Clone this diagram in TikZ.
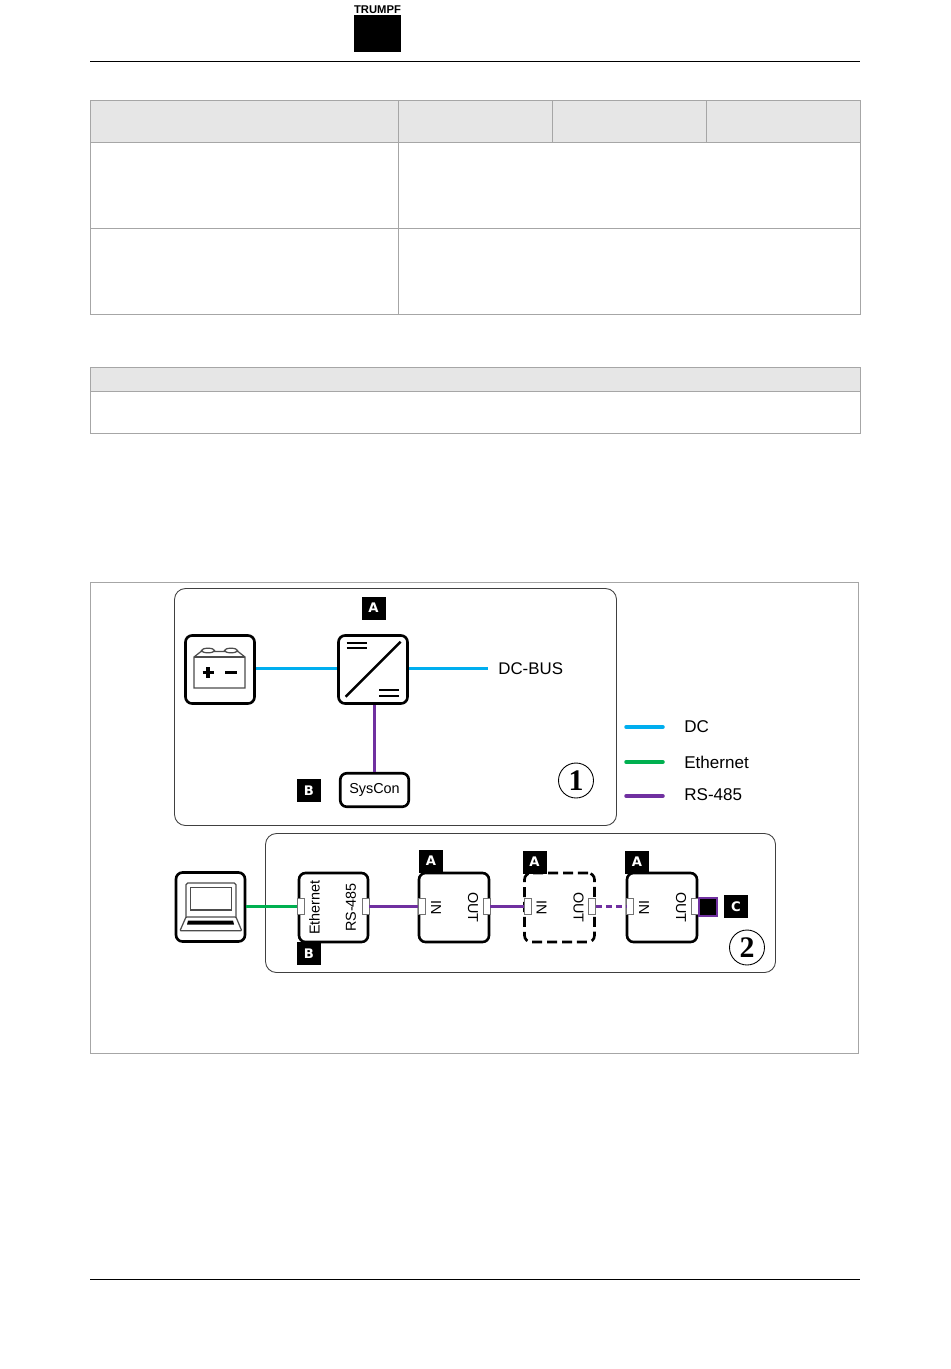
\documentclass[tikz,border=0pt]{standalone}
\usepackage{fontspec}
\setmainfont{Liberation Sans}
\newfontfamily\tagfont{DejaVu Sans}
\newfontfamily\numfont{Liberation Serif}
\usepackage{xcolor}
\usetikzlibrary{positioning}
\definecolor{dcblue}{HTML}{00AEEF}
\definecolor{ethgreen}{HTML}{00B050}
\definecolor{rspurple}{HTML}{7030A0}
\definecolor{headgray}{HTML}{E6E6E6}
\definecolor{rulegray}{HTML}{A6A6A6}

\begin{document}
\begin{tikzpicture}[
  x=0.02cm, y=-0.02cm,
  dev/.style={draw, line width=1.5pt, rounded corners=0.13cm, fill=white, minimum width=1.38cm, minimum height=1.36cm, inner sep=0pt},
  group/.style={draw=black!75, line width=0.5pt, rounded corners=0.22cm},
  tagbox/.style={fill=black, text=white, font=\tagfont\bfseries\fontsize{7.5}{8}\selectfont, minimum width=0.48cm, minimum height=0.46cm, inner sep=0pt},
  port/.style={draw=black!55, line width=0.5pt, fill=white, minimum width=0.14cm, minimum height=0.32cm, inner sep=0pt},
  lb/.style={font=\fontsize{8.2}{9}\selectfont, inner sep=0pt},
  leg/.style={font=\fontsize{9.7}{11}\selectfont, anchor=west, inner sep=0pt},
  num/.style={circle, draw, line width=0.5pt, minimum size=0.7cm, inner sep=0pt, font=\numfont\bfseries\fontsize{17}{17}\selectfont},
  dcline/.style={dcblue, line width=2pt},
  ethline/.style={ethgreen, line width=2pt},
  rsline/.style={rspurple, line width=2pt},
  icon/.style={draw=black!70, line width=0.7pt}
]
\useasboundingbox (0,0) rectangle (950,1369);
% page head and foot
\node[font=\bfseries\fontsize{6.4}{7}\selectfont, inner sep=0pt] (logotext) at (377.5,10) {TRUMPF};
\fill (354,15) rectangle (401,52);
\draw[line width=0.5pt] (90,61.5) -- (860,61.5);
\draw[line width=0.5pt] (90,1279.5) -- (860,1279.5);
% tables
\fill[headgray] (90,100) rectangle (860,142);
\fill[headgray] (90,367) rectangle (860,391);
\begin{scope}[rulegray, line width=0.5pt]
  \draw (90.5,100.5) rectangle (860.5,314.5);
  \draw (90.5,142.5) -- (860.5,142.5);
  \draw (90.5,228.5) -- (860.5,228.5);
  \draw (398.5,100.5) -- (398.5,314.5);
  \draw (552.5,100.5) -- (552.5,142.5);
  \draw (706.5,100.5) -- (706.5,142.5);
  \draw (90.5,367.5) rectangle (860.5,433.5);
  \draw (90.5,391.5) -- (860.5,391.5);
  \draw (90.5,582.5) rectangle (858.5,1053.5);
\end{scope}
% groups
\draw[group] (174.5,588.5) rectangle (616.5,825.5);
\draw[group] (265.5,833.5) rectangle (775.5,972.5);
% upper group
\node[dev] (batt) at (220,669.5) {};
\node[dev] (conv) at (373,669.5) {};
\node[dev, minimum width=1.37cm, minimum height=0.67cm, font=\fontsize{8.2}{9}\selectfont] (syscon) at (374.5,790) {SysCon};
\node[tagbox] (taga) at (373.5,608) {A};
\node[tagbox] (tagb) at (309,790.5) {B};
\node[font=\fontsize{9.6}{11}\selectfont, anchor=west, inner xsep=0.2cm, inner ysep=0pt] (dcbus) at (488,668.5) {DC-BUS};
\node[num] (numa) at (576,780.5) {1};
\draw[dcline] (batt.east|-dcbus) -- (conv.west|-dcbus);
\draw[dcline] (conv.east|-dcbus) -- (dcbus);
\draw[rsline] (syscon.north) -- (syscon.north|-conv.south);
% battery
\draw[icon, fill=white] (194,688) -- (194,657) -- (201,651.5) -- (238,651.5) -- (245,657) -- (245,688) -- cycle;
\draw[icon] (194,657) -- (245,657);
\draw[icon, fill=white] (208,650.5) ellipse (6.5 and 2.3);
\draw[icon, fill=white] (231,650.5) ellipse (6.5 and 2.3);
\draw[line width=2pt] (202.5,672.5) -- (213.5,672.5) (208,667) -- (208,678);
\draw[line width=2pt] (225,672.5) -- (236.5,672.5);
% converter
\draw[line width=1.4pt] (345.7,696.7) -- (400.7,641.7);
\draw[line width=1.1pt] (346.7,642.7) -- (366.7,642.7) (346.7,648) -- (366.7,648);
\draw[line width=1.1pt] (379.3,690) -- (399.3,690) (379.3,696) -- (399.3,696);
% lower group
\node[dev, minimum height=1.38cm] (laptop) at (210.5,907) {};
\node[dev, minimum height=1.38cm] (sys) at (333.5,907.5) {};
\node[dev, minimum height=1.38cm, minimum width=1.4cm] (inva) at (454,907.5) {};
\node[dev, minimum height=1.38cm, minimum width=1.4cm, dash pattern=on 5.7pt off 2.8pt] (invb) at (559.5,907.5) {};
\node[dev, minimum height=1.38cm, minimum width=1.4cm] (invc) at (662,907.5) {};
\node[lb, rotate=90] (etht) at (314.5,907.5) {Ethernet};
\node[lb, rotate=90] (rst) at (351,907.5) {RS-485};
\foreach \nm/\cx in {a/454,b/559.5,c/662} {
  \node[lb, rotate=-90] (in\nm) at (\cx-18,907.5) {IN};
  \node[lb, rotate=-90] (out\nm) at (\cx+19,907.5) {OUT};
  \node[port] (pi\nm) at (\cx-32,906.5) {};
  \node[port] (po\nm) at (\cx+32.5,906.5) {};
}
\node[port] (pe) at (300.5,906.5) {};
\node[port] (pr) at (365.5,906.5) {};
\node[draw=rspurple, line width=1pt, fill=black, minimum size=0.36cm, inner sep=0pt] (term) at (708,907) {};
\node[tagbox] (tagc) at (736,906.5) {C};
\node[tagbox] (taga1) at (431,861) {A};
\node[tagbox] (taga2) at (534.5,862) {A};
\node[tagbox] (taga3) at (637,862) {A};
\node[tagbox] (tagb2) at (309,953.5) {B};
\node[num] (numb) at (747,947.5) {2};
\draw[ethline] (pe.west-|laptop.east) -- (pe.west);
\draw[rsline] (pr.east) -- (pia.west);
\draw[rsline] (poa.east) -- (pib.west);
\draw[rsline, dash pattern=on 3.4pt off 2.3pt] (pob.east) -- (pic.west);
% laptop
\draw[icon, rounded corners=1pt] (186,917) -- (186,883) -- (236,883) -- (236,917);
\draw[icon] (190.7,887.3) rectangle (231.7,910);
\draw[icon, fill=white, rounded corners=0.5pt] (186,917) -- (236,917) -- (241.7,930.7) -- (180,930.7) -- cycle;
\fill (188,920.5) -- (233,920.5) -- (234,924.5) -- (187,924.5) -- cycle;
% legend
\coordinate (ldca) at (626,727);
\coordinate (ldcb) at (663,727);
\coordinate (letha) at (626,762);
\coordinate (lethb) at (663,762);
\coordinate (lrsa) at (626,796);
\coordinate (lrsb) at (663,796);
\draw[dcline, line cap=round] (ldca) -- (ldcb);
\draw[ethline, line cap=round] (letha) -- (lethb);
\draw[rsline, line cap=round] (lrsa) -- (lrsb);
\node[leg] (ldc) at (684,727) {DC};
\node[leg] (leth) at (684,762) {Ethernet};
\node[leg] (lrs) at (684,795) {RS-485};
\end{tikzpicture}
\end{document}
